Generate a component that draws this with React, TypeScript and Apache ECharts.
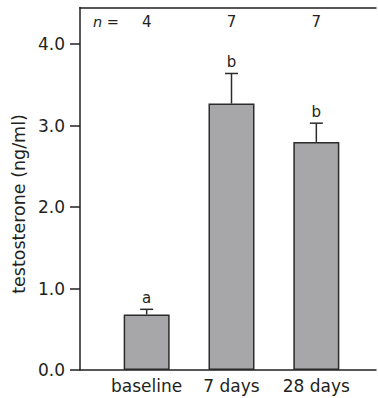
import React, { useEffect, useRef } from "react";
import * as echarts from "echarts";

const categories = ["baseline", "7 days", "28 days"];
const means = [0.68, 3.27, 2.8];
const errorTops = [0.745, 3.64, 3.03];
const letters = ["a", "b", "b"];
const nCounts = ["4", "7", "7"];
const yTicks = [0, 1, 2, 3, 4];
const Y_MAX = 4.45;

const FONT = "'DejaVu Sans', 'Liberation Sans', Arial, sans-serif";
const TEXT = "#231f20";

export default function App() {
  const ref = useRef<HTMLDivElement>(null);
  useEffect(() => {
    const chart = echarts.init(ref.current!, null, { renderer: "svg" });
    const top = 7.5;
    const bottom = 28;
    chart.setOption({
      animation: false,
      textStyle: { fontFamily: FONT, color: TEXT },
      grid: [
        { left: 80, right: 2, top, bottom, containLabel: false },
        { left: 104.25, right: 19.25, top, bottom, containLabel: false },
      ],
      xAxis: [
        {
          type: "value", gridIndex: 0, min: 0, max: 1, position: "bottom",
          axisLine: { show: true, lineStyle: { color: TEXT, width: 1.5 } },
          axisTick: { show: false }, axisLabel: { show: false }, splitLine: { show: false },
        },
        {
          type: "value", gridIndex: 0, min: 0, max: 1, position: "top",
          axisLine: { show: true, lineStyle: { color: TEXT, width: 1.5 } },
          axisTick: { show: false }, axisLabel: { show: false }, splitLine: { show: false },
        },
        {
          type: "category", gridIndex: 1, data: categories,
          axisLine: { show: false }, axisTick: { show: false },
          axisLabel: { interval: 0, hideOverlap: false, color: TEXT, fontSize: 17, fontFamily: FONT, margin: 7 },
        },
      ],
      yAxis: [
        {
          type: "value", gridIndex: 0, min: 0, max: Y_MAX,
          axisLine: { show: true, lineStyle: { color: TEXT, width: 1.5 } },
          axisTick: { show: true, length: 10, customValues: yTicks, lineStyle: { color: TEXT, width: 1.5 } },
          axisLabel: {
            customValues: yTicks, color: TEXT, fontSize: 17, fontFamily: FONT, margin: 15,
            formatter: (v: number) => v.toFixed(1),
          },
          splitLine: { show: false },
        },
        {
          type: "value", gridIndex: 1, min: 0, max: Y_MAX, show: false,
          splitLine: { show: false },
        },
      ],
      graphic: [
        {
          type: "text", x: 19, y: 204, rotation: Math.PI / 2,
          style: {
            text: "testosterone (ng/ml)", fill: TEXT, font: `17.5px ${FONT}`,
            align: "center", verticalAlign: "middle",
          },
        },
        {
          type: "text", x: 93, y: 22,
          style: { text: "n =", fill: TEXT, font: `italic 14.5px ${FONT}`, verticalAlign: "middle" },
        },
      ],
      series: [
        {
          type: "bar", xAxisIndex: 2, yAxisIndex: 1, data: means, barWidth: 46,
          itemStyle: { color: "#a7a7aa", borderColor: "#2b2b2b", borderWidth: 1.5 },
        },
        {
          type: "custom", xAxisIndex: 2, yAxisIndex: 1,
          data: means.map((m, i) => [i, m, errorTops[i]]),
          renderItem: (params: any, api: any) => {
            const i = api.value(0);
            const p0 = api.coord([i, api.value(1)]);
            const p1 = api.coord([i, api.value(2)]);
            const cs = params.coordSys;
            return {
              type: "group",
              children: [
                { type: "line", shape: { x1: p0[0], y1: p0[1], x2: p1[0], y2: p1[1] }, style: { stroke: "#2b2b2b", lineWidth: 1.5 } },
                { type: "line", shape: { x1: p1[0] - 6.5, y1: p1[1], x2: p1[0] + 6.5, y2: p1[1] }, style: { stroke: "#2b2b2b", lineWidth: 1.5 } },
                {
                  type: "text", x: p1[0], y: p1[1] - 11,
                  style: { text: letters[i], fill: TEXT, font: `15px ${FONT}`, align: "center", verticalAlign: "middle" },
                },
                {
                  type: "text", x: p1[0], y: cs.y + 14.5,
                  style: { text: nCounts[i], fill: TEXT, font: `15px ${FONT}`, align: "center", verticalAlign: "middle" },
                },
              ],
            };
          },
        },
      ],
    });
    return () => chart.dispose();
  }, []);
  return <div ref={ref} style={{ position: "absolute", left: 0, top: 0, width: 378, height: 398 }} />;
}
